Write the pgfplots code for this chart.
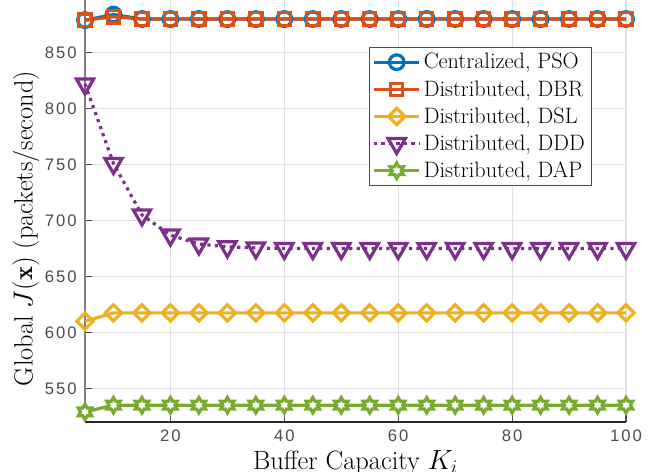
\documentclass[border=0pt]{standalone}
\usepackage{fontspec}
\usepackage{pgfplots}
\pgfplotsset{compat=1.18}
\newfontfamily\tickfont[LetterSpace=12]{Liberation Sans}

\definecolor{c1}{rgb}{0,0.447,0.741}
\definecolor{c2}{rgb}{0.85,0.325,0.098}
\definecolor{c3}{rgb}{0.929,0.694,0.125}
\definecolor{c4}{rgb}{0.494,0.184,0.556}
\definecolor{c5}{rgb}{0.466,0.674,0.188}

% six-pointed star like MATLAB's 'h' marker
\pgfdeclareplotmark{hexagram}{%
  \pgfpathmoveto{\pgfpointpolar{90}{\pgfplotmarksize}}%
  \pgfpathlineto{\pgfpointpolar{120}{0.577\pgfplotmarksize}}%
  \pgfpathlineto{\pgfpointpolar{150}{\pgfplotmarksize}}%
  \pgfpathlineto{\pgfpointpolar{180}{0.577\pgfplotmarksize}}%
  \pgfpathlineto{\pgfpointpolar{210}{\pgfplotmarksize}}%
  \pgfpathlineto{\pgfpointpolar{240}{0.577\pgfplotmarksize}}%
  \pgfpathlineto{\pgfpointpolar{270}{\pgfplotmarksize}}%
  \pgfpathlineto{\pgfpointpolar{300}{0.577\pgfplotmarksize}}%
  \pgfpathlineto{\pgfpointpolar{330}{\pgfplotmarksize}}%
  \pgfpathlineto{\pgfpointpolar{0}{0.577\pgfplotmarksize}}%
  \pgfpathlineto{\pgfpointpolar{30}{\pgfplotmarksize}}%
  \pgfpathlineto{\pgfpointpolar{60}{0.577\pgfplotmarksize}}%
  \pgfpathclose
  \pgfusepathqfillstroke
}

\begin{document}
\begin{tikzpicture}
\begin{axis}[
  scale only axis,
  width=405.75pt,
  height=316.5pt,
  xmin=5, xmax=100,
  ymin=520, ymax=897,
  xtick={20,40,60,80,100},
  ytick={550,600,650,700,750,800,850},
  axis x line*=bottom,
  axis y line*=left,
  x axis line style={-, black!85, line width=0.9pt},
  y axis line style={-, black!50, line width=1.2pt},
  tick align=inside,
  major tick length=5pt,
  tick style={black!70, line width=0.8pt},
  grid=major,
  grid style={black!12, line width=0.8pt},
  clip=false,
  /pgf/number format/assume math mode=true,
  ticklabel style={font=\tickfont\fontsize{12.5}{14}\selectfont, text=black!70},
  yticklabel style={inner sep=0pt, xshift=-6pt},
  xticklabel style={inner sep=0pt, yshift=-6pt},
  every axis x label/.style={at={(rel axis cs:0.5,0)}, anchor=north, yshift=-21.5pt, inner sep=0pt},
  every axis y label/.style={at={(rel axis cs:0,0.4585)}, rotate=90, anchor=south, yshift=34pt, inner sep=0pt},
  label style={font=\fontsize{19.8}{23}\selectfont},
  xlabel={Buffer Capacity $K_i$},
  ylabel={Global $J(\mathbf{x})$ (packets/second)},
  every axis plot/.append style={line width=2.4pt},
  legend style={at={(0.936,0.8886)}, anchor=north east, draw=black!70, line width=0.6pt,
    font=\fontsize{16.7}{19}\selectfont, row sep=3.2pt, inner sep=2.5pt,
    legend cell align=left},
  legend image code/.code={\draw[mark repeat=2,mark phase=2] plot coordinates {(0cm,0cm)(0.6cm,0cm)(1.2cm,0cm)};},
]
\addplot[c1, mark=o, mark size=5.5pt, mark options={fill=white}] coordinates {
(5,879)(10,884)(15,880)(20,880)(25,880)(30,880)(35,880)(40,880)(45,880)(50,880)
(55,880)(60,880)(65,880)(70,880)(75,880)(80,880)(85,880)(90,880)(95,880)(100,880)};
\addplot[c2, mark=square, mark size=4.6pt, mark options={fill=white}] coordinates {
(5,879)(10,882)(15,880)(20,880)(25,880)(30,880)(35,880)(40,880)(45,880)(50,880)
(55,880)(60,880)(65,880)(70,880)(75,880)(80,880)(85,880)(90,880)(95,880)(100,880)};
\addplot[c3, mark=square, mark size=4.3pt, mark options={fill=white, rotate=45}] coordinates {
(5,610)(10,617.5)(15,617.5)(20,617.5)(25,617.5)(30,617.5)(35,617.5)(40,617.5)(45,617.5)(50,617.5)
(55,617.5)(60,617.5)(65,617.5)(70,617.5)(75,617.5)(80,617.5)(85,617.5)(90,617.5)(95,617.5)(100,617.5)};
\addplot[c4, dash pattern=on 2.4pt off 3.2pt, mark=triangle, mark size=7.5pt, mark options={fill=white, solid, rotate=180}] coordinates {
(5,822)(10,751)(15,705)(20,687)(25,679)(30,676.5)(35,675.5)(40,675)(45,675)(50,675)
(55,675)(60,675)(65,675)(70,675)(75,675)(80,675)(85,675)(90,675)(95,675)(100,675)};
\addplot[c5, mark=hexagram, mark size=5.8pt, mark options={fill=white}] coordinates {
(5,529)(10,535)(15,535)(20,535)(25,535)(30,535)(35,535)(40,535)(45,535)(50,535)
(55,535)(60,535)(65,535)(70,535)(75,535)(80,535)(85,535)(90,535)(95,535)(100,535)};
\legend{Centralized{,} PSO, Distributed{,} DBR, Distributed{,} DSL, Distributed{,} DDD, Distributed{,} DAP}
\coordinate (bl) at (rel axis cs:0,0);
\coordinate (tr) at (rel axis cs:1,1);
\end{axis}
\pgfresetboundingbox
\useasboundingbox ([xshift=-63.75pt, yshift=-36.75pt]bl) rectangle ([xshift=21pt]tr);
\end{tikzpicture}
\end{document}
